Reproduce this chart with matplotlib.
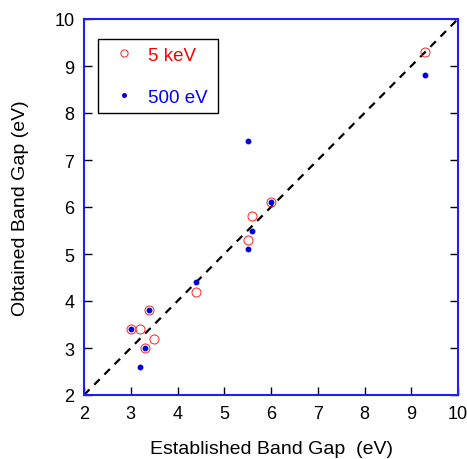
import matplotlib
matplotlib.use("Agg")
import matplotlib.pyplot as plt

plt.rcParams['font.family'] = ['Liberation Sans', 'DejaVu Sans']

# 5 keV data (red open circles)
x_5kev = [3.0, 3.2, 3.5, 3.3, 3.4, 4.4, 5.5, 5.6, 6.0, 9.3]
y_5kev = [3.4, 3.4, 3.2, 3.0, 3.8, 4.2, 5.3, 5.8, 6.1, 9.3]

# 500 eV data (blue dots)
x_500ev = [3.0, 3.3, 3.4, 3.2, 4.4, 5.5, 5.5, 5.6, 6.0, 9.3]
y_500ev = [3.4, 3.0, 3.8, 2.6, 4.4, 7.4, 5.1, 5.5, 6.1, 8.8]

ticks = [2, 3, 4, 5, 6, 7, 8, 9, 10]

fig = plt.figure(figsize=(4.67, 4.60), dpi=100)
ax = fig.add_axes([84/467, 64/460, 374/467, 376/460])

ax.plot([2, 10], [2, 10], color='black', lw=1.6, ls=(0, (3.5, 3)))
ax.plot(x_5kev, y_5kev, 'o', mfc='none', mec='#ff2020', mew=0.7, ms=6.5, label='5 keV')
ax.plot(x_500ev, y_500ev, 'o', color='#0000dd', ms=3.2, label='500 eV')

ax.set_xlim(2, 10)
ax.set_ylim(2, 10)
ax.set_xticks(ticks)
ax.set_yticks(ticks)
ax.tick_params(direction='in', length=6, width=1, labelsize=13, right=True, pad=7)

for s in ax.spines.values():
    s.set_color('#2020ee')
    s.set_linewidth(1.5)

ax.set_xlabel('Established Band Gap  (eV)', fontsize=14, labelpad=13)
ax.set_ylabel('Obtained Band Gap (eV)', fontsize=14, labelpad=18)

leg = ax.legend(loc='upper left', bbox_to_anchor=(0.037, 0.737, 0.321, 0.21),
                mode='expand', borderaxespad=0, fancybox=False, edgecolor='black',
                framealpha=1, fontsize=13.5, labelspacing=1.35, borderpad=0.4,
                handlelength=2.0, handletextpad=0.3, labelcolor=['red', 'blue'],
                markerscale=0.8)
leg.get_frame().set_linewidth(1.0)

fig.savefig('out.png', dpi=100)
